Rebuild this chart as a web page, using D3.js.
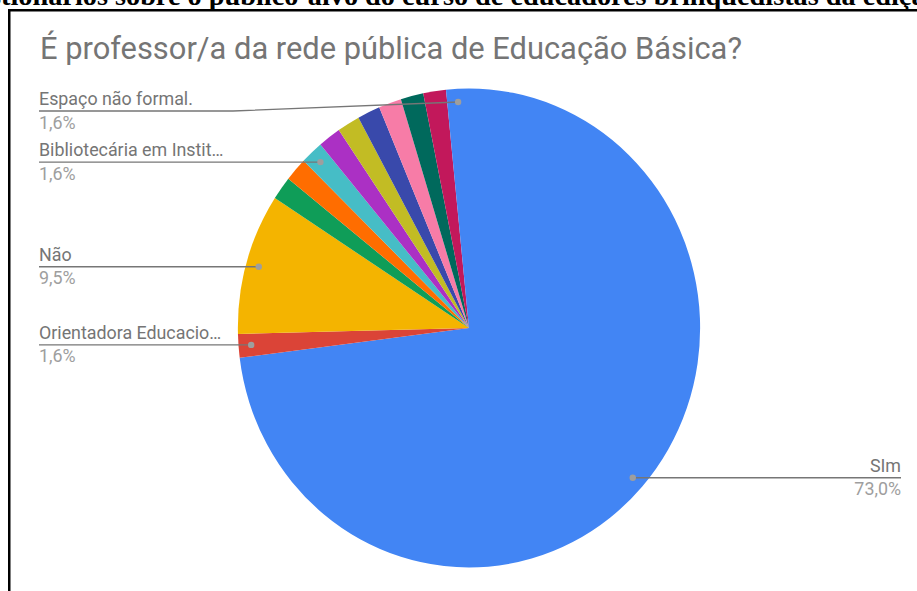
<!DOCTYPE html>
<html>
<head>
<meta charset="utf-8">
<script src="https://cdn.jsdelivr.net/npm/d3@7"></script>
<style>
  body { margin: 0; background: #fff; }
  svg { display: block; }
  .caption { font-family: "Times New Roman", "Liberation Serif", Times, serif; font-weight: bold; }
</style>
</head>
<body>
<script>
// Dimensions
const width = 917;
const height = 591;
const sx = 0.965;          // l'image d'origine est un peu écrasée en largeur
const cx = 469, cy = 328;  // centre du camembert
const radius = 239.5;

// Données
const caption = "questionários sobre o público-alvo do curso de educadores brinquedistas da edição";
const title = "É professor/a da rede pública de Educação Básica?";
const categories = ["SIm", "Orientadora Educacional", "Não", "Outro 1", "Outro 2",
  "Bibliotecária em Instituição", "Outro 3", "Outro 4", "Outro 5", "Outro 6",
  "Outro 7", "Outro 8", "Espaço não formal."];
const counts = [46, 1, 6, 1, 1, 1, 1, 1, 1, 1, 1, 1, 1];
// libellés affichés (null = pas d'étiquette)
const shownLabels = ["SIm", "Orientadora Educacio…", "Não", null, null,
  "Bibliotecária em Instit…", null, null, null, null, null, null, "Espaço não formal."];
const colors = ["#4285f4", "#db4437", "#f4b400", "#0f9d58", "#ff6d00", "#46bdc6",
  "#ab30c4", "#c2bc24", "#3949ab", "#f77ca7", "#00695c", "#c2185b", "#4285f4"];

const data = categories.map((c, i) => ({ name: c, count: counts[i], label: shownLabels[i], color: colors[i] }));
const total = d3.sum(counts);

const svg = d3.select("body").append("svg")
  .attr("width", width)
  .attr("height", height);

// légende du document, coupée en haut
const cap = svg.append("text")
  .attr("class", "caption")
  .attr("y", 5)
  .attr("font-size", 24)
  .attr("fill", "#000")
  .text(caption);
{
  const node = cap.node();
  const iSobre = caption.indexOf("sobre");
  const iEd = caption.indexOf("edição");
  const w = node.getSubStringLength(iSobre, iEd - iSobre);
  cap.attr("font-size", 24 * 748 / w);
  const pre = node.getSubStringLength(0, iSobre);
  cap.attr("x", 115 - pre);
}

// cadre
svg.append("rect")
  .attr("x", 9.25)
  .attr("y", 10.25)
  .attr("width", 1200)
  .attr("height", 1200)
  .attr("fill", "none")
  .attr("stroke", "#000")
  .attr("stroke-width", 2.5);

// titre
const t = svg.append("text")
  .attr("transform", `translate(40,59) scale(${sx},1)`)
  .style("font-family", "Roboto, sans-serif")
  .style("font-size", "23px")
  .style("fill", "#757575")
  .text(title);
{
  const w = t.node().getComputedTextLength();
  t.style("font-size", (23 * (702 / sx) / w) + "px");
}

// camembert
const pie = d3.pie().sort(null).value(d => d.count);
const arc = d3.arc().innerRadius(0).outerRadius(radius);
const dotArc = d3.arc().innerRadius(radius * 0.945).outerRadius(radius * 0.945);
const arcs = pie(data);

const group = svg.append("g")
  .attr("transform", `translate(${cx},${cy}) scale(${sx},1)`);

group.selectAll("path")
  .data(arcs)
  .join("path")
  .attr("d", arc)
  .attr("fill", d => d.data.color);

// étiquettes
const labelled = arcs.filter(d => d.data.label);
const leftX = 39, rightX = 901, bendX = 233;
const fontStyle = sel => sel.style("font-family", "Roboto, sans-serif").style("font-size", "18.5px");

const lab = svg.append("g");
labelled.forEach(d => {
  const c = dotArc.centroid(d);
  const dx = cx + c[0] * sx, dy = cy + c[1];
  const left = dx < cx;
  const ly = Math.max(dy, 111);
  const pct = ((d.data.count / total) * 100).toFixed(1).replace(".", ",") + "%";

  let path;
  if (left) {
    path = `M${leftX},${ly}H${Math.min(dx, bendX)}L${dx},${dy}`;
  } else {
    path = `M${rightX},${ly}H${dx}`;
  }
  lab.append("path")
    .attr("d", path)
    .attr("fill", "none")
    .attr("stroke", "#767676")
    .attr("stroke-width", 1.4);

  lab.append("circle")
    .attr("cx", dx).attr("cy", dy).attr("r", 3.2)
    .attr("fill", "#9e9e9e");

  const tx = left ? leftX : rightX;
  const anchor = left ? "start" : "end";
  lab.append("text")
    .attr("transform", `translate(${tx},${ly - 6}) scale(${sx},1)`)
    .attr("text-anchor", anchor)
    .call(fontStyle)
    .style("fill", "#757575")
    .text(d.data.label);
  lab.append("text")
    .attr("transform", `translate(${tx},${ly + 17.5}) scale(${sx},1)`)
    .attr("text-anchor", anchor)
    .call(fontStyle)
    .style("fill", "#9e9e9e")
    .text(pct);
});
</script>
</body>
</html>
